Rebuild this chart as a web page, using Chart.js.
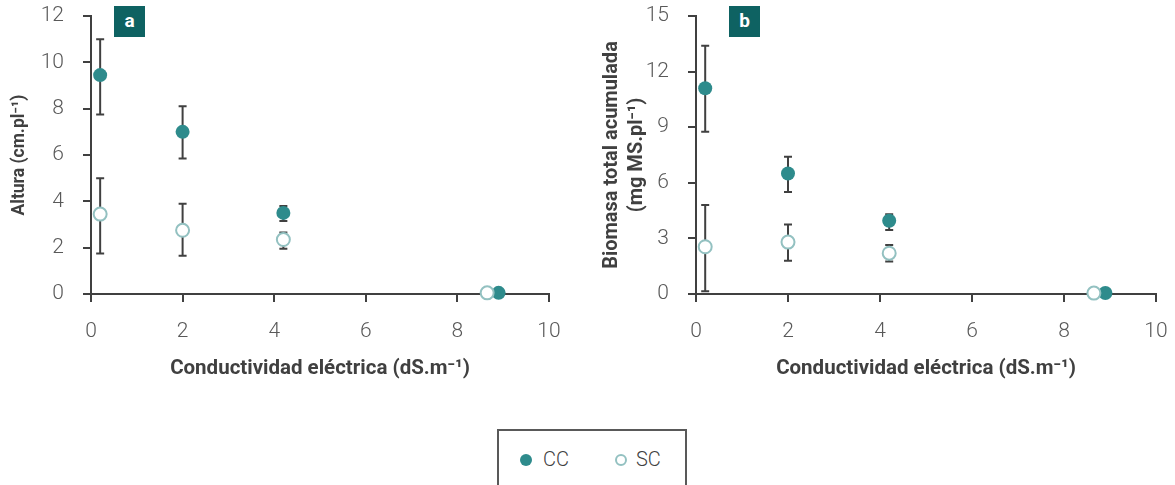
<!DOCTYPE html>
<html>
<head>
<meta charset="utf-8">
<script src="https://cdn.jsdelivr.net/npm/chart.js@4.4.1/dist/chart.umd.min.js"></script>
<style>
  body { margin: 0; background: #fff; width: 1175px; height: 485px; position: relative; overflow: hidden; font-family: Roboto, sans-serif; }
  canvas { position: absolute; top: 0; }
  .tag { position: absolute; top: 6px; width: 31px; height: 31px; background: #0e6262; color: #fff; font: 700 19px Roboto; text-align: center; line-height: 30px; }
  .legend { position: absolute; left: 497px; top: 429px; width: 190px; height: 70px; border: 2px solid #595959; box-sizing: border-box; }
  .legend span { position: absolute; top: 16px; font: 300 20px Roboto; color: #404040; }
  .dot { position: absolute; top: 23px; width: 12px; height: 12px; border-radius: 50%; box-sizing: border-box; }
</style>
</head>
<body>
<canvas id="chartA" width="590" height="400" style="left:0"></canvas>
<canvas id="chartB" width="585" height="400" style="left:590px"></canvas>
<div class="tag" style="left:114px">a</div>
<div class="tag" style="left:729px">b</div>
<div class="legend">
  <div class="dot" style="left:21px;background:#2e8b8c"></div><span style="left:44px">CC</span>
  <div class="dot" style="left:116px;border:2px solid #93c1c1;background:#fff"></div><span style="left:137px">SC</span>
</div>
<script>
// conductividad eléctrica (dS.m-1)
const ceCC = [0.2, 2, 4.2, 8.9];
const ceSC = [0.2, 2, 4.2, 8.65];

// a: altura (cm.pl-1)
const alturaCC = [9.45, 7.0, 3.5, 0.05];
const alturaCCLow = [7.75, 5.85, 3.15, null];
const alturaCCHigh = [11.0, 8.1, 3.8, null];
const alturaSC = [3.45, 2.75, 2.35, 0.05];
const alturaSCLow = [1.75, 1.65, 1.95, null];
const alturaSCHigh = [5.0, 3.9, 2.65, null];

// b: biomasa total acumulada (mg MS.pl-1)
const biomasaCC = [11.1, 6.5, 3.95, 0.05];
const biomasaCCLow = [8.75, 5.5, 3.45, null];
const biomasaCCHigh = [13.4, 7.4, 4.3, null];
const biomasaSC = [2.55, 2.8, 2.2, 0.05];
const biomasaSCLow = [0.15, 1.8, 1.75, null];
const biomasaSCHigh = [4.8, 3.75, 2.65, null];

const AXIS = "#404040";
const TICK = "#595959";

const errorBars = {
   id: "errorBars",
   beforeDatasetsDraw(chart) {
      const { ctx, scales: { y } } = chart;
      ctx.save();
      ctx.strokeStyle = AXIS;
      ctx.lineWidth = 2;
      chart.data.datasets.forEach((ds, di) => {
         const meta = chart.getDatasetMeta(di);
         meta.data.forEach((pt, i) => {
            if (ds.low[i] == null) return;
            const top = y.getPixelForValue(ds.high[i]);
            const bot = y.getPixelForValue(ds.low[i]);
            ctx.beginPath();
            ctx.moveTo(pt.x, top); ctx.lineTo(pt.x, bot);
            ctx.moveTo(pt.x - 4, top); ctx.lineTo(pt.x + 4, top);
            ctx.moveTo(pt.x - 4, bot); ctx.lineTo(pt.x + 4, bot);
            ctx.stroke();
         });
      });
      ctx.restore();
   },
};

function pts(xs, ys) {
   return xs.map((x, i) => ({ x, y: ys[i] }));
}

function buildChart(id, opt) {
   return new Chart(document.getElementById(id), {
      type: "scatter",
      data: {
         datasets: [
            {
               label: "SC", order: 0, clip: false,
               data: pts(ceSC, opt.sc), low: opt.scLow, high: opt.scHigh,
               pointRadius: 6.5, pointBorderWidth: 2,
               pointBackgroundColor: "#ffffff", pointBorderColor: "#93c1c1",
            },
            {
               label: "CC", order: 1, clip: false,
               data: pts(ceCC, opt.cc), low: opt.ccLow, high: opt.ccHigh,
               pointRadius: 7, pointBorderWidth: 0,
               pointBackgroundColor: "#2e8b8c", pointBorderColor: "#2e8b8c",
            },
         ],
      },
      options: {
         responsive: false,
         animation: false,
         layout: { padding: { top: 16, right: opt.right, left: 0, bottom: 0 } },
         plugins: { legend: { display: false }, tooltip: { enabled: false } },
         scales: {
            x: {
               type: "linear", min: 0, max: 10,
               afterFit: s => { s.height = 400 - 294; s.paddingLeft = 0; s.paddingRight = 0; },
               ticks: { stepSize: 2, color: TICK, padding: 17, font: { family: "Roboto", size: 21, weight: 300 } },
               grid: { drawOnChartArea: false, color: AXIS, lineWidth: 2, tickLength: 8 },
               border: { color: AXIS, width: 2 },
               title: {
                  display: true, text: "Conductividad eléctrica (dS.m⁻¹)", color: AXIS,
                  padding: { top: 0, bottom: 19 },
                  font: { family: "Roboto", size: 20.5, weight: 700 },
               },
            },
            y: {
               min: 0, max: opt.ymax,
               afterFit: s => { s.width = opt.left; s.paddingTop = 0; s.paddingBottom = 0; },
               ticks: { stepSize: opt.step, color: TICK, padding: 19, font: { family: "Roboto", size: 21, weight: 300 } },
               grid: { drawOnChartArea: false, color: AXIS, lineWidth: 2, tickLength: 8 },
               border: { color: AXIS, width: 2 },
               title: {
                  display: true, text: opt.ytitle, color: AXIS,
                  padding: { top: opt.tpad, bottom: 0 },
                  font: { family: "Roboto", size: opt.tsize, weight: 700, lineHeight: opt.tlh },
               },
            },
         },
      },
      plugins: [errorBars],
   });
}

buildChart("chartA", {
   cc: alturaCC, ccLow: alturaCCLow, ccHigh: alturaCCHigh,
   sc: alturaSC, scLow: alturaSCLow, scHigh: alturaSCHigh,
   ymax: 12, step: 2, left: 91, right: 590 - 549,
   ytitle: "Altura (cm.pl⁻¹)", tsize: 17.5, tlh: 1.2, tpad: 9,
});

buildChart("chartB", {
   cc: biomasaCC, ccLow: biomasaCCLow, ccHigh: biomasaCCHigh,
   sc: biomasaSC, scLow: biomasaSCLow, scHigh: biomasaSCHigh,
   ymax: 15, step: 3, left: 106, right: 585 - 566,
   ytitle: ["Biomasa total acumulada", "(mg MS.pl⁻¹)"], tsize: 20, tlh: 1.25, tpad: 9,
});
</script>
</body>
</html>
